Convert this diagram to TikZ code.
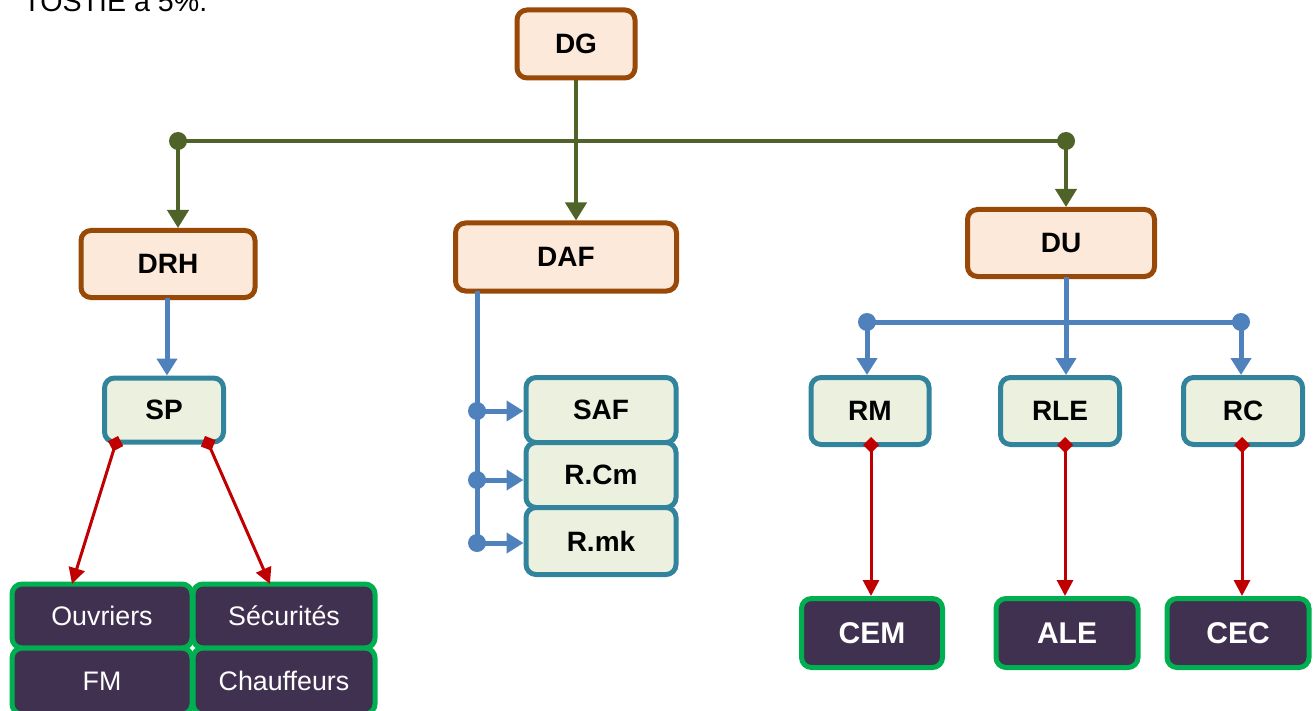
\documentclass[tikz,border=0pt]{standalone}
\usepackage{fontspec}
\setmainfont{Liberation Sans}
\usetikzlibrary{arrows.meta}
\definecolor{brownS}{HTML}{984807}
\definecolor{brownF}{HTML}{FDE9D9}
\definecolor{tealS}{HTML}{31849B}
\definecolor{tealF}{HTML}{EBF1DE}
\definecolor{purpF}{HTML}{403151}
\definecolor{grnS}{HTML}{00B050}
\definecolor{oliv}{HTML}{4F6228}
\definecolor{blu}{HTML}{4F81BD}
\definecolor{redc}{HTML}{C00000}
\tikzset{
  topbox/.style={draw=brownS, fill=brownF, line width=2.5pt, rounded corners=5pt, font=\fontsize{14}{16}\selectfont\bfseries, inner sep=0pt},
  midbox/.style={draw=tealS, fill=tealF, line width=2.5pt, rounded corners=5pt, font=\fontsize{14}{16}\selectfont\bfseries, inner sep=0pt},
  lowbox/.style={draw=grnS, fill=purpF, line width=2.5pt, rounded corners=5pt, text=white, inner sep=0pt},
  smalltxt/.style={font=\fontsize{13.4}{15}\selectfont},
  bigtxt/.style={font=\fontsize{15}{17}\selectfont\bfseries},
  gline/.style={draw=oliv, line width=2pt},
  garrow/.style={gline, -{Triangle[length=9pt,width=10.5pt]}},
  bline/.style={draw=blu, line width=2.5pt},
  barrow/.style={bline, -{Triangle[length=8.5pt,width=10pt]}},
  rarrow/.style={draw=redc, line width=1.5pt, {Diamond[length=8pt,width=8pt]}-{Triangle[length=8pt,width=8pt]}},
}
\begin{document}
\begin{tikzpicture}[x=0.5pt,y=-0.5pt]
\useasboundingbox (0,0) rectangle (1316,711);
\clip (0,0) rectangle (1316,711);
\node[anchor=base west, inner sep=0pt, font=\fontsize{14.3}{16}\selectfont] (title) at (23,12) {TOSTIE à 5\%.};

% top level
\node[topbox, minimum width=59pt, minimum height=34pt] (DG) at (576,44) {DG};
\node[topbox, minimum width=87pt, minimum height=33.5pt] (DRH) at (168,264) {DRH};
\node[topbox, minimum width=110.5pt, minimum height=34pt] (DAF) at (566,257) {DAF};
\node[topbox, minimum width=93.5pt, minimum height=33.5pt] (DU) at (1061,243) {DU};

% green connectors
\coordinate (gL) at (178,141);
\coordinate (gR) at (1066,141);
\draw[gline] (gL) -- (gR);
\fill[oliv] (gL) circle (9);
\fill[oliv] (gR) circle (9);
\draw[garrow] (DG.south) -- (DG.south |- DAF.north);
\draw[garrow] (gL) -- (gL |- DRH.north);
\draw[garrow] (gR) -- (gR |- DU.north);

% second level
\node[midbox, minimum width=59.5pt, minimum height=32pt] (SP) at (164,410) {SP};
\draw[barrow] (167,298) coordinate (drhb) -- (drhb |- SP.north);

\node[midbox, minimum width=75pt, minimum height=32.5pt] (SAF) at (601,410) {SAF};
\node[midbox, minimum width=75pt, minimum height=32.5pt] (RCm) at (601,475) {R.Cm};
\node[midbox, minimum width=75pt, minimum height=33.5pt] (Rmk) at (601,541) {R.mk};
\coordinate (d1) at (477,411);
\coordinate (d2) at (477,480);
\coordinate (d3) at (477,543);
\draw[bline] (477,291) coordinate (dafb) -- (d3);
\fill[blu] (d1) circle (9);
\fill[blu] (d2) circle (9);
\fill[blu] (d3) circle (9);
\draw[barrow] (d1) -- (SAF.west |- d1);
\draw[barrow] (d2) -- (SAF.west |- d2);
\draw[barrow] (d3) -- (SAF.west |- d3);

\node[midbox, minimum width=59pt, minimum height=33.5pt] (RM) at (870,411) {RM};
\node[midbox, minimum width=59.5pt, minimum height=33.5pt] (RLE) at (1060,411) {RLE};
\node[midbox, minimum width=59.5pt, minimum height=33.5pt] (RC) at (1243,411) {RC};
\coordinate (bL) at (867,322);
\coordinate (bR) at (1241,322);
\draw[bline] (bL) -- (bR);
\fill[blu] (bL) circle (9);
\fill[blu] (bR) circle (9);
\draw[barrow] (1066,277) coordinate (dub) -- (dub |- RLE.north);
\draw[barrow] (bL) -- (bL |- RM.north);
\draw[barrow] (bR) -- (bR |- RC.north);

% bottom level right
\node[lowbox, bigtxt, minimum width=70.5pt, minimum height=34.5pt] (CEM) at (872,633) {CEM};
\node[lowbox, bigtxt, minimum width=71pt, minimum height=34.5pt] (ALE) at (1067,633) {ALE};
\node[lowbox, bigtxt, minimum width=71pt, minimum height=34.5pt] (CEC) at (1238,633) {CEC};
\draw[rarrow] (871,437) coordinate (rm1) -- (rm1 |- CEM.north);
\draw[rarrow] (1065,437) coordinate (rle1) -- (rle1 |- ALE.north);
\draw[rarrow] (1242,437) coordinate (rc1) -- (rc1 |- CEC.north);

% bottom level left
\node[lowbox, smalltxt, minimum width=90pt, minimum height=32pt] (Ouv) at (102,616) {Ouvriers};
\node[lowbox, smalltxt, minimum width=91pt, minimum height=32pt] (Sec) at (284,616) {Sécurités};
\node[lowbox, smalltxt, minimum width=90pt, minimum height=33pt] (FM) at (102,681) {FM};
\node[lowbox, smalltxt, minimum width=91pt, minimum height=33pt] (Chf) at (284,681) {Chauffeurs};
\coordinate (sp1) at (118,436);
\coordinate (sp2) at (205,436);
\draw[rarrow] (sp1) -- (72,584);
\draw[rarrow] (sp2) -- (270,584);
\end{tikzpicture}
\end{document}
